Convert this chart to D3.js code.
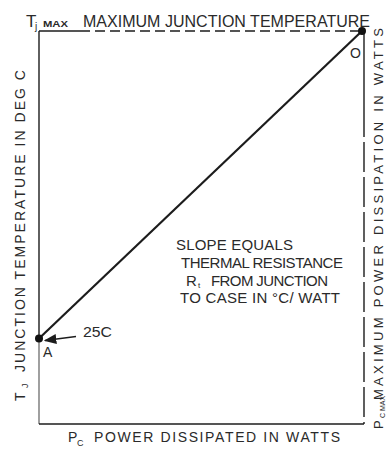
<!DOCTYPE html>
<html>
<head>
<meta charset="utf-8">
<script src="https://cdn.jsdelivr.net/npm/d3@7/dist/d3.min.js"></script>
<style>
  html, body { margin: 0; padding: 0; background: #fff; }
  svg { display: block; }
  text { font-family: "Liberation Sans", Arial, sans-serif; fill: #2a2a2a; }
</style>
</head>
<body>
<script>
// Junction temperature rises linearly with dissipated power,
// from the case temperature at zero power up to Tj max at Pc max.
const powerW = [0, 1];            // Pc, normalised to Pc max
const junctionTempC = [25, 115];  // Tj at each end of the line
const pointLabels = ["A", "O"];
const powerDomain = [0, 1];
const tempDomain = [0, 115];

const width = 386, height = 450;
const svg = d3.select("body").append("svg")
  .attr("width", width).attr("height", height);

const x = d3.scaleLinear().domain(powerDomain).range([39, 362]);
const y = d3.scaleLinear().domain(tempDomain).range([424, 31]);

const ink = "#1c1c1c";
const pts = powerW.map((p, i) => ({ p, t: junctionTempC[i], label: pointLabels[i] }));

// frame: solid left and bottom edges
svg.append("line")
  .attr("x1", x(0)).attr("x2", x(0)).attr("y1", y(tempDomain[1])).attr("y2", y(junctionTempC[0]))
  .attr("stroke", ink).attr("stroke-width", 1.4);
svg.append("line")
  .attr("x1", x(0)).attr("x2", x(0)).attr("y1", y(junctionTempC[0])).attr("y2", y(0))
  .attr("stroke", "#777").attr("stroke-width", 1.4);
svg.append("line")
  .attr("x1", x(0)).attr("x2", x(1) + 2).attr("y1", y(0)).attr("y2", y(0))
  .attr("stroke", ink).attr("stroke-width", 1.4);

// Tj max: dashed top edge with a solid start
const xSolidEnd = x.invert(80);
svg.append("line")
  .attr("x1", x(0)).attr("x2", x(xSolidEnd)).attr("y1", y(tempDomain[1])).attr("y2", y(tempDomain[1]))
  .attr("stroke", ink).attr("stroke-width", 1.4);
svg.append("line")
  .attr("x1", x(xSolidEnd)).attr("x2", x(1)).attr("y1", y(tempDomain[1])).attr("y2", y(tempDomain[1]))
  .attr("stroke", ink).attr("stroke-width", 1.4).attr("stroke-dasharray", "10,5");

// Pc max: right edge, solid near the top, then long dashes
const tSolidEnd = y.invert(107);
svg.append("line")
  .attr("x1", x(1) + 2).attr("x2", x(1) + 2).attr("y1", y(tempDomain[1])).attr("y2", y(tSolidEnd))
  .attr("stroke", ink).attr("stroke-width", 1.4);
svg.append("line")
  .attr("x1", x(1) + 2).attr("x2", x(1) + 2).attr("y1", y(tSolidEnd)).attr("y2", y(0))
  .attr("stroke", ink).attr("stroke-width", 1.4).attr("stroke-dasharray", "30,5");

// thermal-resistance line
svg.append("path")
  .datum(pts)
  .attr("d", d3.line().x(d => x(d.p)).y(d => y(d.t)))
  .attr("fill", "none").attr("stroke", ink).attr("stroke-width", 2.2);

svg.selectAll("circle.pt").data(pts).join("circle")
  .attr("class", "pt")
  .attr("cx", d => x(d.p)).attr("cy", d => y(d.t)).attr("r", 4)
  .attr("fill", "#111");

// point letters
svg.append("text").attr("x", x(0) + 4).attr("y", y(junctionTempC[0]) + 18)
  .attr("font-size", 14).text(pointLabels[0]);
svg.append("text").attr("x", x(1) - 12).attr("y", y(junctionTempC[1]) + 27)
  .attr("font-size", 14).text(pointLabels[1]);

// 25C call-out with arrow
const defs = svg.append("defs");
defs.append("marker").attr("id", "arrowhead")
  .attr("viewBox", "0 0 10 10").attr("refX", 9).attr("refY", 5)
  .attr("markerWidth", 9).attr("markerHeight", 9).attr("orient", "auto")
  .append("path").attr("d", "M0,1 L10,5 L0,9 Z").attr("fill", ink);
svg.append("line")
  .attr("x1", 76).attr("y1", y(junctionTempC[0]) - 2)
  .attr("x2", x(0) + 6).attr("y2", y(junctionTempC[0]) + 2)
  .attr("stroke", ink).attr("stroke-width", 1.4).attr("marker-end", "url(#arrowhead)");
svg.append("text").attr("x", 83).attr("y", 337)
  .attr("font-size", 15).attr("textLength", 29).attr("lengthAdjust", "spacingAndGlyphs")
  .text(junctionTempC[0] + "C");

// top title
svg.append("text").attr("x", 26).attr("y", 27).attr("font-size", 17).text("T");
svg.append("text").attr("x", 35).attr("y", 30).attr("font-size", 10).text("j");
svg.append("text").attr("x", 43).attr("y", 27).attr("font-size", 8.5).attr("font-weight", "bold")
  .attr("textLength", 25).attr("lengthAdjust", "spacingAndGlyphs").text("MAX");
svg.append("text").attr("x", 83).attr("y", 27).attr("font-size", 16)
  .attr("textLength", 287).attr("lengthAdjust", "spacing")
  .text("MAXIMUM JUNCTION TEMPERATURE");

// bottom title
svg.append("text").attr("x", 68).attr("y", 442).attr("font-size", 14).text("P");
svg.append("text").attr("x", 77).attr("y", 446).attr("font-size", 9).text("C");
svg.append("text").attr("x", 94).attr("y", 442).attr("font-size", 14)
  .attr("textLength", 246).attr("lengthAdjust", "spacing")
  .text("POWER DISSIPATED IN WATTS");

// rotated titles (read upward)
function vtext(xp, yp, size, str, len) {
  const t = svg.append("text").attr("transform", `translate(${xp},${yp}) rotate(-90)`)
    .attr("font-size", size).text(str);
  if (len) t.attr("textLength", len).attr("lengthAdjust", "spacing");
  return t;
}
vtext(25, 401, 14, "T");
vtext(28, 388, 9, "J");
vtext(25, 372, 14, "JUNCTION TEMPERATURE IN DEG C", 302);

vtext(383, 429, 13, "P");
vtext(385, 418, 7, "C MAX");
vtext(383, 400, 13, "MAXIMUM POWER DISSIPATION IN WATTS", 372);

// slope note
const note = svg.append("g").attr("font-size", 15);
note.append("text").attr("x", 176).attr("y", 250)
  .attr("textLength", 117).attr("lengthAdjust", "spacing").text("SLOPE EQUALS");
note.append("text").attr("x", 181).attr("y", 268)
  .attr("textLength", 162).attr("lengthAdjust", "spacing").text("THERMAL RESISTANCE");
note.append("text").attr("x", 186).attr("y", 286).text("R");
note.append("text").attr("x", 198).attr("y", 287.5).attr("font-size", 8).text("t");
note.append("text").attr("x", 211).attr("y", 286)
  .attr("textLength", 117).attr("lengthAdjust", "spacing").text("FROM JUNCTION");
note.append("text").attr("x", 180).attr("y", 303)
  .attr("textLength", 160).attr("lengthAdjust", "spacing").text("TO CASE IN °C/ WATT");
</script>
</body>
</html>
